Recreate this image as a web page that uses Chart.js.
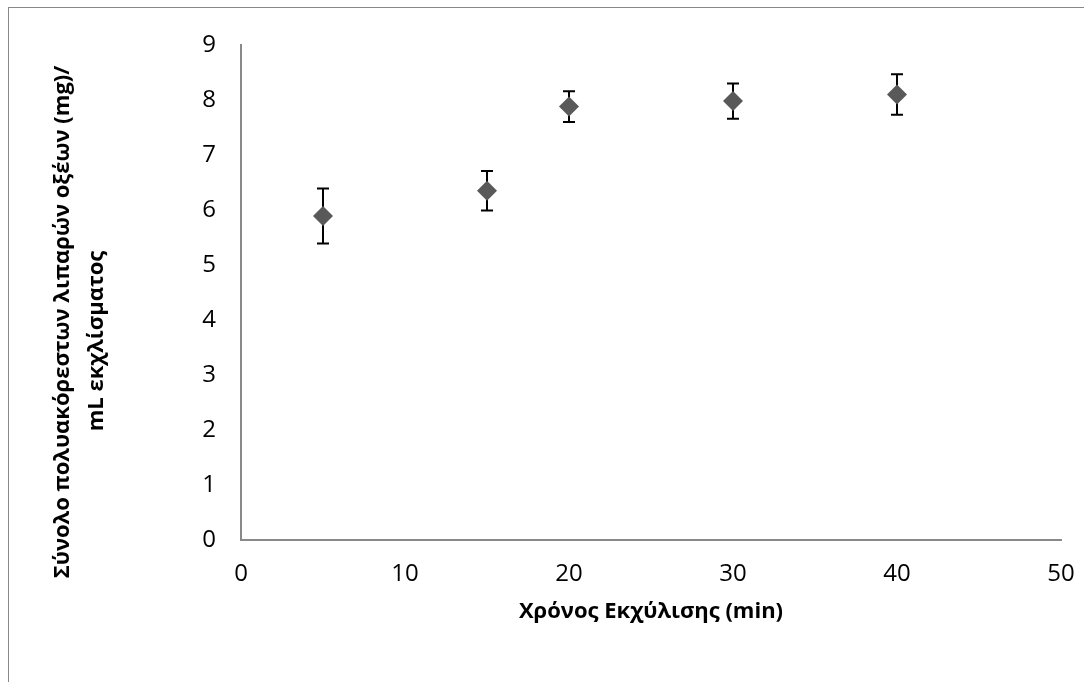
<!DOCTYPE html>
<html>
<head>
<meta charset="utf-8">
<script src="https://cdn.jsdelivr.net/npm/chart.js@4/dist/chart.umd.min.js"></script>
<style>
  body { margin: 0; background: #fff; }
  #wrap { position: relative; width: 1084px; height: 682px; }
  #frame { position: absolute; left: 8px; top: 7px; right: 0; bottom: 0;
           border-left: 1px solid #888; border-top: 1px solid #888; pointer-events: none; }
  canvas { position: absolute; left: 0; top: 0; }
</style>
</head>
<body>
<div id="wrap">
  <canvas id="chart" width="1084" height="682"></canvas>
  <div id="frame"></div>
</div>
<script>
// extraction time (min)
const times = [5, 15, 20, 30, 40];
// total PUFA (mg / mL extract)
const values = [5.89, 6.35, 7.88, 7.98, 8.10];
// error bar half lengths
const errors = [0.50, 0.36, 0.28, 0.32, 0.37];

const xTicks = [0, 10, 20, 30, 40, 50];
const yTicks = [0, 1, 2, 3, 4, 5, 6, 7, 8, 9];

const xTitle = 'Χρόνος Εκχύλισης (min)';
const yTitleLines = ['Σύνολο πολυακόρεστων λιπαρών οξέων (mg)/', 'mL εκχλίσματος'];

const FONT = "'Open Sans', 'Noto Sans', sans-serif";

// draw vertical error bars under the markers
const errorBars = {
    id: 'errorBars',
    beforeDatasetsDraw(chart) {
        const ctx = chart.ctx;
        const xs = chart.scales.x, ys = chart.scales.y;
        ctx.save();
        ctx.strokeStyle = '#000';
        ctx.lineWidth = 2;
        times.forEach(function(t, i) {
            const px = xs.getPixelForValue(t);
            const top = ys.getPixelForValue(values[i] + errors[i]);
            const bot = ys.getPixelForValue(values[i] - errors[i]);
            ctx.beginPath();
            ctx.moveTo(px, top); ctx.lineTo(px, bot);
            ctx.moveTo(px - 6, top); ctx.lineTo(px + 6, top);
            ctx.moveTo(px - 6, bot); ctx.lineTo(px + 6, bot);
            ctx.stroke();
        });
        ctx.restore();
    }
};

// two-line rotated y axis title
const yTitle = {
    id: 'yTitle',
    afterDraw(chart) {
        const ctx = chart.ctx;
        const pos = [[63, 322], [97, 341]];
        ctx.save();
        ctx.fillStyle = '#000';
        ctx.font = 'bold 22px ' + FONT;
        ctx.textAlign = 'center';
        ctx.textBaseline = 'middle';
        yTitleLines.forEach(function(line, i) {
            ctx.save();
            ctx.translate(pos[i][0], pos[i][1]);
            ctx.rotate(-Math.PI / 2);
            ctx.fillText(line, 0, 0);
            ctx.restore();
        });
        ctx.restore();
    }
};

new Chart(document.getElementById('chart'), {
    type: 'scatter',
    data: {
        datasets: [{
            data: times.map((t, i) => ({ x: t, y: values[i] })),
            pointStyle: 'rectRot',
            pointRadius: 10,
            pointHoverRadius: 10,
            backgroundColor: '#595959',
            borderColor: '#595959',
            borderWidth: 0
        }]
    },
    options: {
        responsive: false,
        animation: false,
        layout: { padding: { top: 45, right: 23, left: 0, bottom: 57 } },
        plugins: { legend: { display: false }, tooltip: { enabled: false } },
        scales: {
            x: {
                type: 'linear',
                min: 0, max: 50,
                afterFit(scale) { scale.height = 85; scale.paddingLeft = 0; scale.paddingRight = 0; },
                afterBuildTicks(scale) { scale.ticks = xTicks.map(v => ({ value: v })); },
                grid: { display: false, drawTicks: false },
                border: { display: true, color: '#898989', width: 2 },
                ticks: { color: '#000', padding: 20, font: { family: FONT, size: 24 } },
                title: {
                    display: true, text: xTitle, color: '#000',
                    font: { family: FONT, size: 22, weight: 'bold' },
                    padding: 0
                }
            },
            y: {
                min: 0, max: 9,
                afterFit(scale) { scale.width = 241; scale.paddingTop = 0; scale.paddingBottom = 0; },
                afterBuildTicks(scale) { scale.ticks = yTicks.map(v => ({ value: v })); },
                grid: { display: false, drawTicks: false },
                border: { display: true, color: '#898989', width: 2 },
                ticks: { color: '#000', padding: 25, font: { family: FONT, size: 24 } }
            }
        }
    },
    plugins: [errorBars, yTitle]
});
</script>
</body>
</html>
